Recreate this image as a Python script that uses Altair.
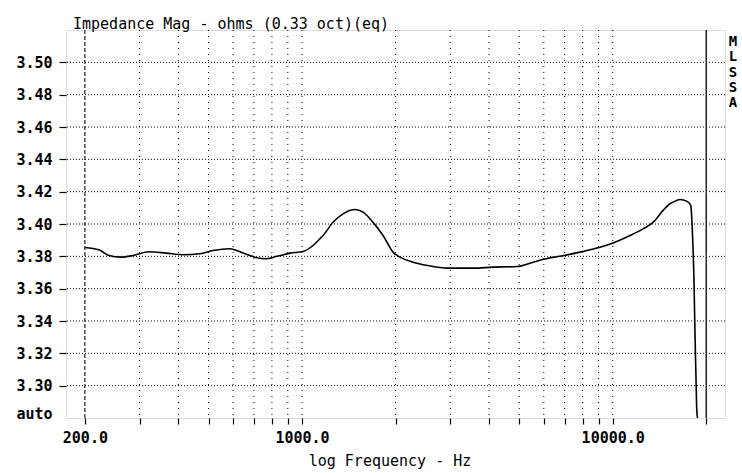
import altair as alt
import pandas as pd

# ---- data ----
freq = [200, 222, 239, 261, 286, 322, 365, 414, 469, 517, 586, 646, 717, 760, 831, 915,
        1007, 1085, 1143, 1169, 1258, 1355, 1481, 1572, 1693, 1823, 1963, 2067, 2277, 2544,
        2929, 3551, 4119, 4920, 5541, 6190, 6767, 7849, 9101, 10023, 11369, 12517, 13484,
        14521, 15292, 15637, 16468, 17344, 17824, 17956, 18091, 18266, 18401, 18538, 18635, 18747]
imp = [3.3855, 3.3840, 3.3805, 3.3795, 3.3805, 3.3828, 3.3820, 3.3810, 3.3816, 3.3836, 3.3847,
       3.3820, 3.3791, 3.3785, 3.3800, 3.3820, 3.3830, 3.3867, 3.3910, 3.3929, 3.4011, 3.4063,
       3.4090, 3.4073, 3.4010, 3.3929, 3.3826, 3.3795, 3.3764, 3.3743, 3.3727, 3.3727, 3.3733,
       3.3737, 3.3764, 3.3788, 3.3800, 3.3826, 3.3856, 3.3883, 3.3929, 3.3970, 3.4010, 3.4084,
       3.4125, 3.4135, 3.4152, 3.4140, 3.4115, 3.4042, 3.3900, 3.3640, 3.3310, 3.3043, 3.2858, 3.2800]

x_ticks = [200, 300, 400, 500, 600, 700, 800, 900, 1000, 2000, 3000, 4000, 5000, 6000,
           7000, 8000, 9000, 10000, 20000]
x_labelled = [200, 1000, 10000]
v_dotted = [300, 400, 500, 600, 700, 800, 900, 1000, 2000, 3000, 4000, 5000, 6000,
            7000, 8000, 9000, 10000]
v_dashed = [200]
v_solid = [20000]
y_ticks = [3.28, 3.30, 3.32, 3.34, 3.36, 3.38, 3.40, 3.42, 3.44, 3.46, 3.48, 3.50]
h_grid = [3.30, 3.32, 3.34, 3.36, 3.38, 3.40, 3.42, 3.44, 3.46, 3.48, 3.50]

title_text = "Impedance Mag - ohms (0.33 oct)(eq)"
x_title = "log Frequency - Hz"
side_letters = ["M", "L", "S", "S", "A"]

MONO = "DejaVu Sans Mono"

x_scale = alt.Scale(type="log", domain=[173.9, 22980], nice=False)
y_scale = alt.Scale(domain=[3.28, 3.52], nice=False, zero=False)

curve = pd.DataFrame({"freq": freq, "imp": imp})

x_axis = alt.Axis(
    values=x_ticks,
    labelExpr="indexof(" + str(x_labelled) + ", datum.value) >= 0 ? format(datum.value, '.1f') : ''",
    grid=False, domain=False, tickSize=6, tickColor="black", tickWidth=1.2,
    labelFont=MONO, labelFontSize=15, labelFontWeight="bold", labelColor="black",
    labelPadding=6, labelOverlap=False, labelFlush=False,
    title=x_title, titleFont=MONO, titleFontSize=15, titleFontWeight="normal",
    titleColor="black", titleX=323.5, titleY=47, titleBaseline="alphabetic", titleAlign="center",
)
y_axis = alt.Axis(
    values=y_ticks,
    labelExpr="datum.value < 3.29 ? 'auto' : format(datum.value, '.2f')",
    grid=False, domain=False, tickSize=7, tickWidth=1.2,
    tickColor={"condition": {"test": "datum.value < 3.29", "value": "transparent"}, "value": "black"},
    labelBaseline={"condition": {"test": "datum.value < 3.29", "value": "alphabetic"}, "value": "middle"},
    labelFont=MONO, labelFontSize=15, labelFontWeight="bold", labelColor="black",
    labelPadding=7, labelOverlap=False, labelFlush=False, title=None,
)

line = alt.Chart(curve).mark_line(color="black", strokeWidth=1.6, clip=True,
                                  interpolate="monotone").encode(
    x=alt.X("freq:Q", scale=x_scale, axis=x_axis),
    y=alt.Y("imp:Q", scale=y_scale, axis=y_axis),
)

hgrid = alt.Chart(pd.DataFrame({"imp": h_grid})).mark_rule(
    color="black", strokeWidth=1, strokeDash=[1, 2]
).encode(y=alt.Y("imp:Q", scale=y_scale, axis=y_axis))

vdot = alt.Chart(pd.DataFrame({"freq": v_dotted})).mark_rule(
    color="black", strokeWidth=1, strokeDash=[1, 5]
).encode(x=alt.X("freq:Q", scale=x_scale, axis=x_axis))

vdash = alt.Chart(pd.DataFrame({"freq": v_dashed})).mark_rule(
    color="#222", strokeWidth=1.2, strokeDash=[4, 2]
).encode(x=alt.X("freq:Q", scale=x_scale, axis=x_axis))

vsolid = alt.Chart(pd.DataFrame({"freq": v_solid})).mark_rule(
    color="#222", strokeWidth=1.5
).encode(x=alt.X("freq:Q", scale=x_scale, axis=x_axis))

side_df = pd.DataFrame({"t": side_letters, "i": list(range(len(side_letters)))})
side = alt.Chart(side_df).transform_calculate(
    py="12 + datum.i * 15.3"
).mark_text(
    font=MONO, fontSize=14, fontWeight="bold", color="black", align="center",
    baseline="middle"
).encode(text="t:N", x=alt.value(667), y=alt.Y("py:Q", scale=None, axis=None))

chart = alt.layer(line, hgrid, vdot, vdash, vsolid, side).properties(
    width=659, height=388,
    title=alt.TitleParams(title_text, anchor="start", frame="group", dx=7, dy=20, offset=5,
                          font=MONO, fontSize=15, fontWeight="normal", color="black",
                          baseline="alphabetic"),
    autosize=alt.AutoSizeParams(type="none"),
    padding={"left": 66, "top": 30, "right": 17, "bottom": 55},
).configure_view(stroke="#222", strokeWidth=1.6).configure(background="white")

chart.save("out.html", embed_options={"renderer": "svg", "actions": False})
